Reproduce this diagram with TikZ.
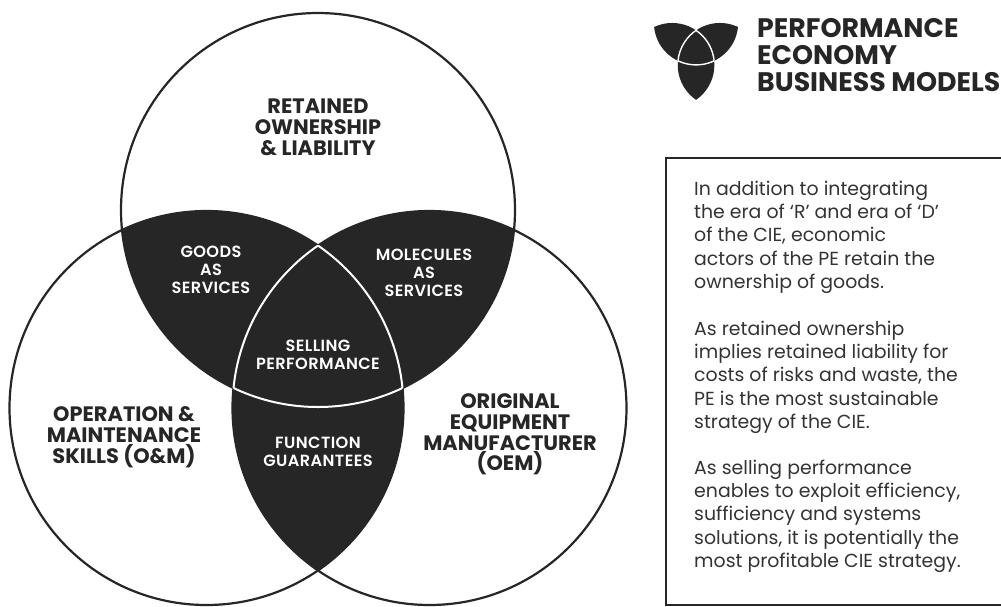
\documentclass[tikz,border=0pt]{standalone}
\usepackage{fontspec}
\setmainfont{Poppins}
\newfontfamily\wfont{Poppins SemiBold}[LetterSpace=2.5]
\definecolor{ink}{gray}{0.15}
\definecolor{soft}{gray}{0.2}
\tikzset{
 lab/.style={font=\bfseries\fontsize{20.9}{20.8}\selectfont,align=center,text=ink,inner sep=0pt},
 labw/.style={font=\wfont\fontsize{16.2}{17.8}\selectfont,align=center,text=white,inner sep=0pt},
 ring/.style={draw=ink,line width=2.2pt},
 wring/.style={draw=white,line width=2pt},
 wringsmall/.style={draw=white,line width=1.4pt},
 para/.style={font=\fontsize{18.9}{23.4}\selectfont,align=left,anchor=north west,inner sep=0pt,text=soft}
}
\newcommand\vennfill{%
 \begin{scope}\clip (318,210) circle (197);\fill[ink] (206.5,408) circle (197);\end{scope}
 \begin{scope}\clip (318,210) circle (197);\fill[ink] (429.5,408) circle (197);\end{scope}
 \begin{scope}\clip (206.5,408) circle (197);\fill[ink] (429.5,408) circle (197);\end{scope}
}
\newcommand\vennwhite[1]{%
 \begin{scope}\clip (318,210) circle (197);\clip (206.5,408) circle (197);\draw[#1] (429.5,408) circle (197);\end{scope}
 \begin{scope}\clip (318,210) circle (197);\clip (429.5,408) circle (197);\draw[#1] (206.5,408) circle (197);\end{scope}
 \begin{scope}\clip (206.5,408) circle (197);\clip (429.5,408) circle (197);\draw[#1] (318,210) circle (197);\end{scope}
}
\begin{document}
\begin{tikzpicture}[x=1pt,y=-1pt]
\useasboundingbox (0,0) rectangle (1001,606);
\vennfill
\draw[ring] (318,210) circle (197);
\draw[ring] (206.5,408) circle (197);
\draw[ring] (429.5,408) circle (197);
\vennwhite{wring}
\node[lab] (own) at (318,127) {RETAINED\\OWNERSHIP\\\& LIABILITY};
\node[lab] (om) at (124,437) {OPERATION \&\\MAINTENANCE\\SKILLS (O\&M)};
\node[lab] (oem) at (510,434.5) {ORIGINAL\\EQUIPMENT\\MANUFACTURER\\(OEM)};
\node[labw] (gs) at (211,270) {GOODS\\AS\\SERVICES};
\node[labw] (ms) at (424,273) {MOLECULES\\AS\\SERVICES};
\node[labw] (sp) at (318,354.5) {SELLING\\PERFORMANCE};
\node[labw] (fg) at (318,452) {FUNCTION\\GUARANTEES};
% logo
\begin{scope}[shift={(628,-22.2)},scale=0.214]
\vennfill
\vennwhite{wringsmall}
\end{scope}
\node[font=\bfseries\fontsize{26.8}{27}\selectfont,align=left,anchor=north west,inner sep=0pt,text=ink] (ttl) at (757,18.5) {PERFORMANCE\\ECONOMY\\BUSINESS MODELS};
% box
\node[draw=ink,line width=2.4pt,minimum width=345pt,minimum height=447pt,anchor=north west,inner sep=0pt] (box) at (665,157) {};
\node[para] (p1) at (694,180.5) {In addition to integrating\\the era of `R' and era of `D'\\of the CIE, economic\\actors of the PE retain the\\ownership of goods.};
\node[para] (p2) at (694,320.5) {As retained ownership\\implies retained liability for\\costs of risks and waste, the\\PE is the most sustainable\\strategy of the CIE.};
\node[para] (p3) at (694,459.5) {As selling performance\\enables to exploit efficiency,\\sufficiency and systems\\solutions, it is potentially the\\most profitable CIE strategy.};
\end{tikzpicture}
\end{document}
